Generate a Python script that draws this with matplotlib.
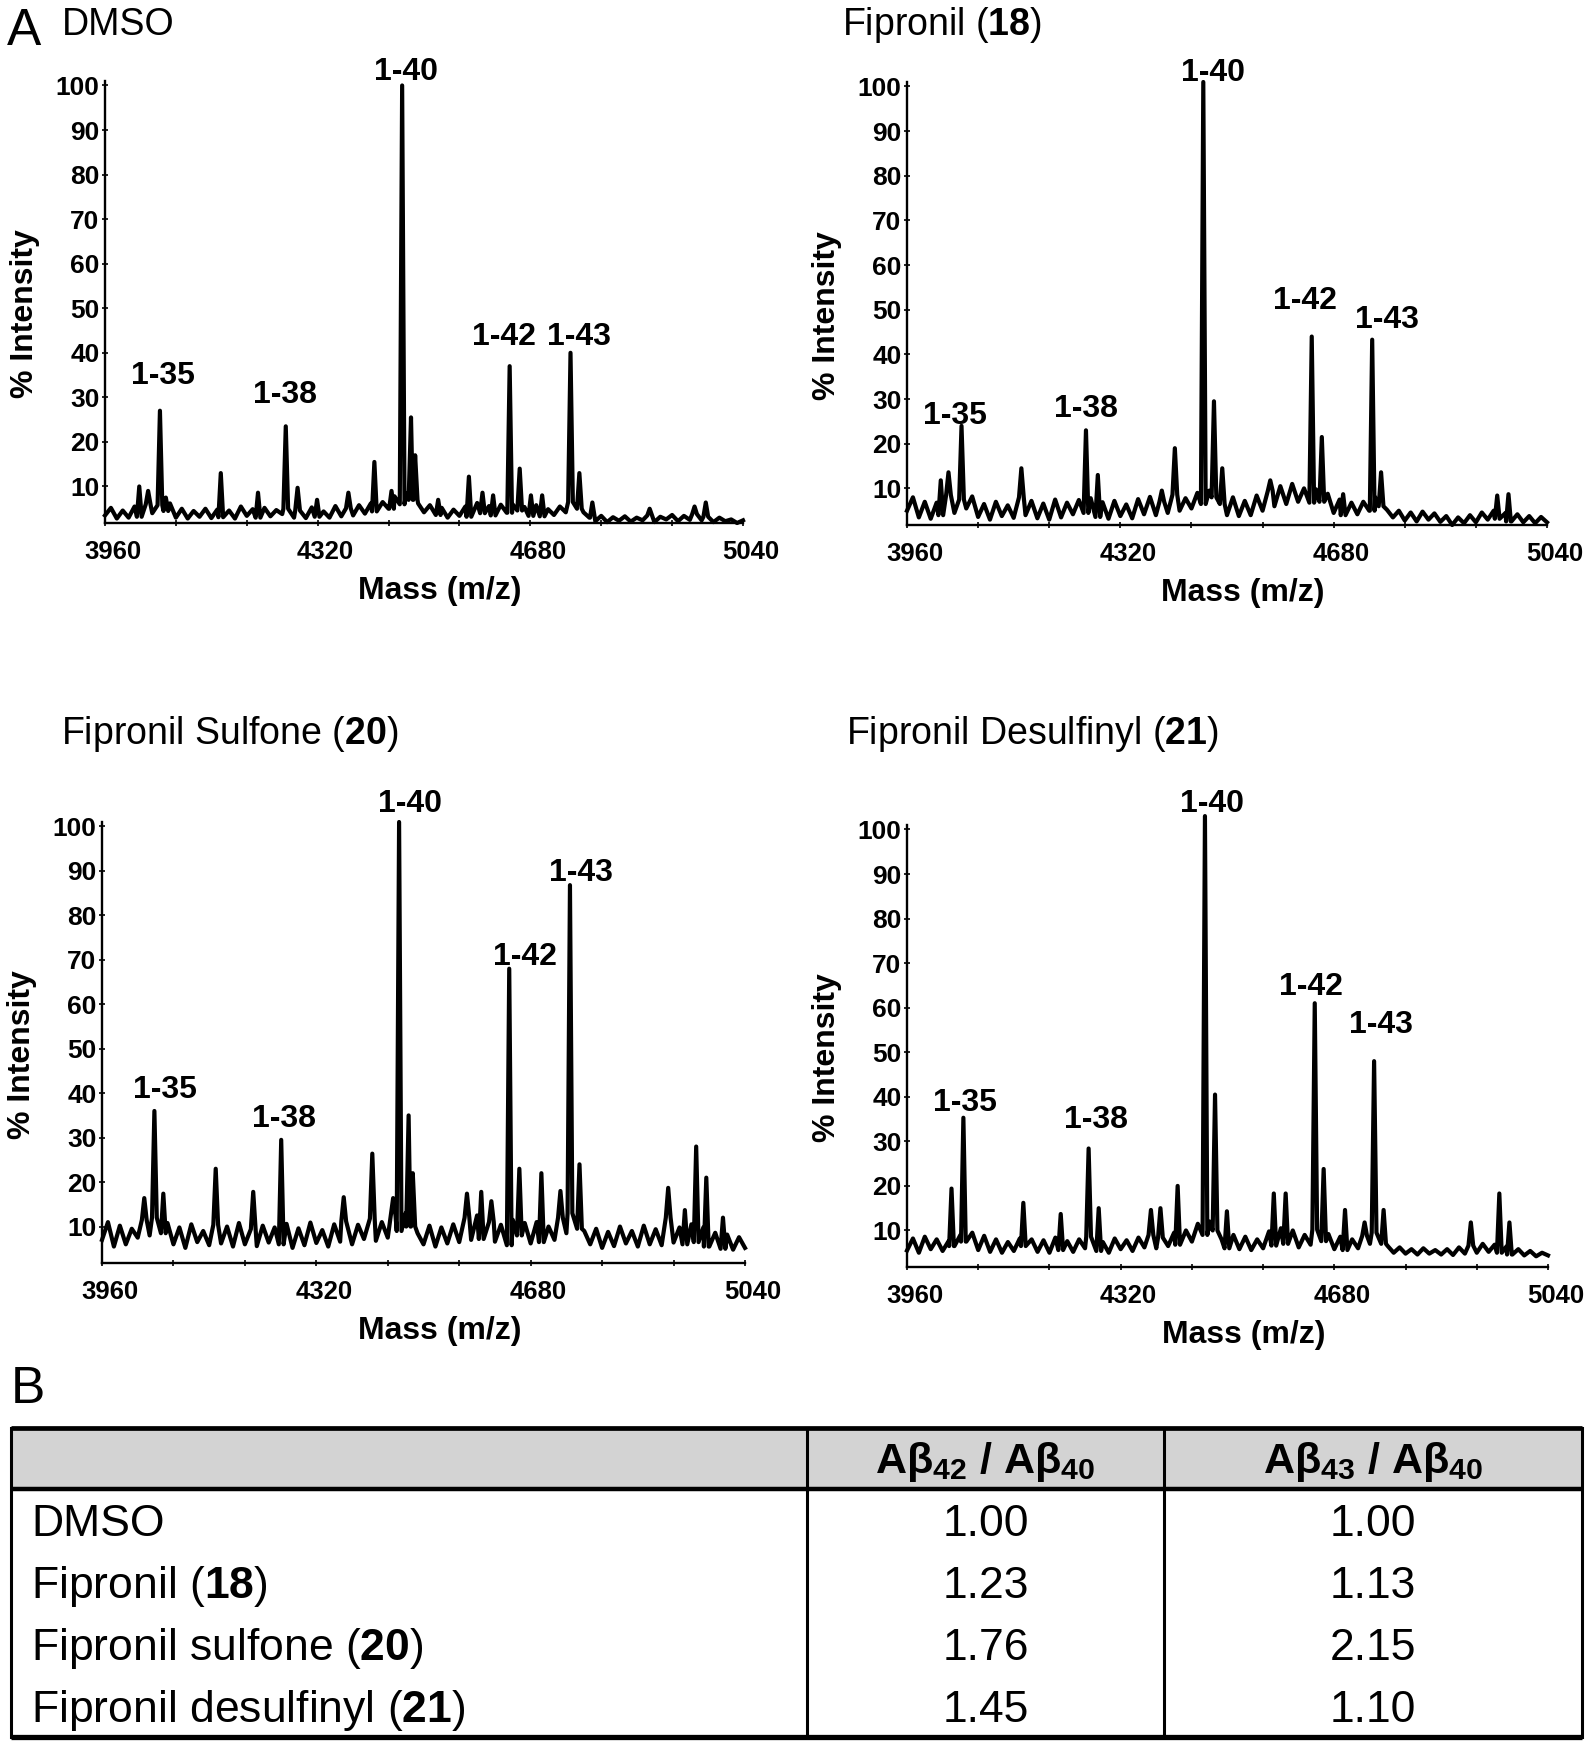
import numpy as np
import matplotlib
matplotlib.use("Agg")
import matplotlib.pyplot as plt
from matplotlib.patches import Rectangle
from matplotlib.transforms import ScaledTranslation

plt.rcParams['font.family'] = ['Liberation Sans', 'DejaVu Sans']
plt.rcParams['mathtext.fontset'] = 'custom'
plt.rcParams['mathtext.rm'] = 'Liberation Sans'
plt.rcParams['mathtext.bf'] = 'Liberation Sans:bold'
plt.rcParams['mathtext.it'] = 'Liberation Sans:italic'

# ---- data ----
mass_start = 3960
mass_step = 10

# baseline noise, one value every 10 Da from 3960 to 5040
base_dmso = [3.5, 5.2, 2.8, 4.6, 3.0, 5.5, 3.2, 6.0, 4.0, 5.8,
             4.5, 6.2, 3.0, 5.0, 2.8, 4.5, 3.2, 5.0, 2.9, 4.8,
             3.1, 4.6, 2.8, 5.5, 3.4, 4.9, 3.0, 5.2, 3.3, 4.7,
             3.8, 5.0, 3.0, 4.6, 2.9, 5.3, 3.2, 4.4, 3.0, 5.6,
             3.3, 5.1, 3.5, 5.8, 3.9, 6.2, 4.4, 6.5, 5.0, 7.8,
             6.0, 8.5, 7.0, 6.2, 4.2, 5.8, 3.6, 5.2, 3.0, 4.8,
             3.4, 5.5, 3.2, 6.3, 4.0, 5.6, 3.5, 5.9, 4.1, 6.0,
             4.6, 5.4, 3.4, 5.8, 3.3, 4.9, 3.6, 5.5, 4.2, 6.5,
             5.0, 4.2, 3.0, 2.2, 3.4, 2.0, 3.1, 2.3, 3.3, 2.1,
             3.0, 2.4, 3.5, 2.0, 3.2, 2.6, 3.6, 2.2, 3.4, 2.5,
             3.8, 2.4, 3.2, 2.0, 3.0, 2.2, 2.6, 1.8, 2.4]
base_fip = [5.0, 8.0, 3.5, 7.0, 3.2, 6.8, 4.0, 8.5, 4.5, 7.5,
            5.5, 8.2, 3.6, 6.5, 3.0, 7.0, 3.8, 6.2, 3.4, 8.0,
            4.0, 7.2, 3.3, 6.6, 3.0, 7.5, 3.5, 6.8, 4.2, 7.4,
            4.5, 7.8, 3.6, 6.9, 3.2, 7.2, 3.8, 6.4, 3.3, 7.6,
            4.2, 8.1, 4.0, 7.0, 4.5, 8.6, 5.0, 7.8, 5.5, 9.0,
            6.5, 9.5, 8.0, 6.5, 4.0, 8.0, 3.8, 7.2, 4.0, 8.4,
            5.0, 9.5, 6.0, 10.5, 6.5, 11.0, 7.0, 10.0, 6.8, 9.8,
            7.0, 8.8, 4.5, 7.5, 4.0, 6.8, 4.2, 7.0, 5.0, 8.0,
            6.0, 5.2, 3.5, 5.0, 2.8, 4.6, 2.6, 4.8, 3.0, 4.4,
            2.5, 3.8, 1.8, 3.5, 2.2, 4.0, 2.4, 4.6, 3.0, 5.0,
            3.2, 4.5, 2.6, 4.2, 2.4, 3.8, 2.2, 3.6, 2.4]
base_sulfone = [7.0, 11.0, 5.5, 10.2, 6.0, 9.5, 7.5, 11.5, 8.0, 12.0,
                8.5, 10.8, 6.0, 9.8, 5.2, 10.5, 6.5, 9.0, 5.8, 10.4,
                6.2, 10.0, 5.5, 10.8, 6.0, 9.4, 5.6, 10.2, 6.4, 9.8,
                6.0, 10.6, 5.2, 9.6, 5.8, 10.9, 6.3, 9.2, 5.5, 10.5,
                6.6, 11.2, 6.0, 10.4, 7.2, 11.8, 6.8, 11.0, 7.5, 12.5,
                9.0, 13.0, 10.0, 8.5, 6.0, 10.2, 5.5, 9.8, 6.2, 10.5,
                6.5, 12.0, 7.0, 12.5, 7.2, 11.0, 6.6, 10.4, 5.8, 11.5,
                8.0, 10.8, 6.2, 11.0, 6.5, 10.0, 7.0, 12.0, 8.5, 13.0,
                9.5, 9.0, 6.0, 9.5, 5.2, 8.8, 5.6, 10.0, 6.2, 9.0,
                5.5, 10.2, 6.0, 9.4, 5.8, 12.0, 6.4, 9.8, 6.0, 10.5,
                6.5, 9.8, 5.5, 8.6, 5.0, 8.2, 4.8, 7.6, 5.2]
base_desulf = [5.5, 8.2, 5.0, 8.6, 5.8, 8.0, 5.4, 7.6, 6.5, 9.0,
               7.5, 9.5, 5.6, 8.8, 5.2, 8.0, 5.0, 7.4, 5.4, 8.2,
               6.5, 8.0, 5.2, 7.8, 5.0, 8.4, 5.6, 7.6, 5.2, 8.0,
               6.0, 8.6, 5.4, 7.4, 5.0, 8.2, 5.8, 7.8, 5.4, 8.4,
               6.2, 9.0, 6.0, 8.4, 6.5, 9.5, 6.8, 10.0, 7.5, 11.5,
               9.0, 12.0, 10.0, 8.0, 6.0, 9.0, 5.8, 8.6, 5.6, 8.0,
               6.0, 9.8, 6.6, 10.5, 7.0, 10.0, 6.2, 9.0, 6.8, 10.2,
               7.6, 9.2, 5.8, 8.6, 5.6, 8.0, 6.0, 8.8, 7.0, 9.5,
               7.0, 6.5, 5.0, 6.2, 4.8, 5.8, 4.6, 6.0, 4.8, 5.6,
               4.6, 5.8, 4.5, 6.2, 4.8, 6.6, 5.0, 7.0, 5.2, 6.8,
               5.0, 6.4, 4.6, 5.8, 4.4, 5.4, 4.2, 5.0, 4.4]

# peaks (m/z, % intensity)
peaks_dmso = [(4018, 10), (4033, 9), (4053, 27), (4063, 7.5), (4156, 13),
              (4219, 8.6), (4266, 23.5), (4286, 9.7), (4319, 7), (4372, 8.6),
              (4416, 15.5), (4445, 9), (4463, 100), (4478, 25.5), (4485, 17),
              (4524, 7), (4576, 12.2), (4599, 8.6), (4617, 8), (4645, 37),
              (4662, 14), (4681, 8), (4700, 8), (4748, 40), (4763, 13),
              (4785, 6.4), (4882, 5), (4958, 5.5), (4977, 6.4)]
peaks_fip = [(4017, 11.8), (4030, 13.6), (4052, 24), (4153, 14.5), (4262, 23),
             (4282, 13), (4390, 9.5), (4412, 19), (4460, 101), (4478, 29.5),
             (4492, 14.5), (4573, 11.8), (4643, 44), (4660, 21.5), (4696, 8.7),
             (4745, 43.3), (4760, 13.6), (4956, 8.4), (4975, 8.7)]
peaks_sulfone = [(4031, 16.4), (4048, 36), (4063, 17.4), (4151, 23), (4214, 17.8),
                 (4261, 29.5), (4366, 16.6), (4414, 26.4), (4449, 16.4), (4459, 101),
                 (4475, 35), (4482, 22), (4573, 17.4), (4597, 17.8), (4614, 15.7),
                 (4644, 68), (4661, 23), (4698, 22), (4730, 18), (4746, 86.8),
                 (4762, 24), (4911, 18.7), (4939, 13.7), (4958, 28), (4975, 21),
                 (5003, 12)]
peaks_desulf = [(4035, 19.4), (4055, 35.3), (4156, 16.2), (4219, 13.7), (4266, 28.4),
                (4283, 15), (4371, 14.6), (4387, 15), (4416, 20), (4462, 103),
                (4479, 40.5), (4499, 14.3), (4578, 18.3), (4598, 18.3), (4647, 61),
                (4662, 23.8), (4698, 14.6), (4731, 11.8), (4747, 48), (4763, 14.6),
                (4910, 11.8), (4958, 18.3), (4975, 11.8)]

peak_names = ['1-35', '1-38', '1-40', '1-42', '1-43']

titles = ['DMSO', r'Fipronil ($\mathbf{18}$)', r'Fipronil Sulfone ($\mathbf{20}$)',
          r'Fipronil Desulfinyl ($\mathbf{21}$)']

# table
row_names = ['DMSO', r'Fipronil ($\mathbf{18}$)', r'Fipronil sulfone ($\mathbf{20}$)',
             r'Fipronil desulfinyl ($\mathbf{21}$)']
col_names = [r'$\mathbf{Aβ_{42}\ /\ Aβ_{40}}$', r'$\mathbf{Aβ_{43}\ /\ Aβ_{40}}$']
ratio_42_40 = [1.00, 1.23, 1.76, 1.45]
ratio_43_40 = [1.00, 1.13, 2.15, 1.10]

# ---- layout (pixels) ----
W, H = 1592, 1743
fig = plt.figure(figsize=(W / 100, H / 100), dpi=100)


def px_axes(x0, y0, x1, y1):
    return fig.add_axes([x0 / W, 1 - y1 / H, (x1 - x0) / W, (y1 - y0) / H])


panels = [
    (base_dmso, peaks_dmso, (105, 81, 743, 523), (62, 35),
     [(4058, 34.8), (4265, 30.5), (4469, 103), (4635, 43.5), (4763, 43.5)]),
    (base_fip, peaks_fip, (907, 82, 1547, 525), (842, 35),
     [(4041, 26.2), (4262, 27.7), (4477, 103), (4631, 51.9), (4770, 47.6)]),
    (base_sulfone, peaks_sulfone, (102, 822, 745, 1263), (61, 744),
     [(4066, 40.7), (4266, 34.2), (4478, 105), (4670, 70.7), (4765, 89.5)]),
    (base_desulf, peaks_desulf, (907, 825, 1548, 1267), (846, 744),
     [(4058, 38.7), (4278, 34.7), (4474, 105.7), (4640, 64.7), (4759, 56.2)]),
]


def trace(baseline, peaks, hw=4):
    gx = mass_start + mass_step * np.arange(len(baseline))
    pts = [(x, y) for x, y in zip(gx, baseline)
           if all(abs(x - m) > hw for m, _ in peaks)]
    for m, h in peaks:
        b = baseline[int(round((m - mass_start) / mass_step))]
        pts += [(m - hw, b), (m, h), (m + hw, b)]
    pts.sort()
    return np.array(pts).T


xoff = ScaledTranslation(8 / 100, 0, fig.dpi_scale_trans)

for (base, peaks, rect, tpos, lpos), title in zip(panels, titles):
    x0, y0, x1, y1 = rect
    ax = px_axes(x0, y0, x1, y1)
    xs, ys = trace(base, peaks)
    ax.plot(xs, ys, color='black', lw=3.0, clip_on=False, solid_joinstyle='round')
    ax.set_xlim(3960, 5040)
    ax.set_ylim(1.8, 101)
    for s in ['top', 'right']:
        ax.spines[s].set_visible(False)
    for s in ['left', 'bottom']:
        ax.spines[s].set_linewidth(1.7)
    ax.set_xticks([3960, 4320, 4680, 5040])
    ax.set_xticks(np.arange(3960, 5041, 120), minor=True)
    ax.set_yticks(range(10, 101, 10))
    ax.tick_params(axis='both', which='both', direction='inout', length=4,
                   width=1.2)
    ax.tick_params(axis='x', pad=10, labelsize=18.5)
    ax.tick_params(axis='y', pad=2, labelsize=19)
    for lab in ax.get_xticklabels() + ax.get_yticklabels():
        lab.set_fontweight('bold')
    for lab in ax.get_xticklabels():
        lab.set_transform(lab.get_transform() + xoff)
    for name, (mx, my) in zip(peak_names, lpos):
        ax.text(mx, my, name, ha='center', va='center', fontsize=23,
                fontweight='bold', clip_on=False)
    fig.text((x0 + x1) / 2 / W + 16 / W, 1 - (y1 + 68) / H, 'Mass (m/z)',
             ha='center', va='center', fontsize=23, fontweight='bold')
    fig.text((x0 - 80) / W, 1 - ((y0 + y1) / 2 + 12) / H, '% Intensity',
             ha='center', va='center', fontsize=23, fontweight='bold',
             rotation=90)
    fig.text(tpos[0] / W, 1 - tpos[1] / H, title, ha='left', va='baseline',
             fontsize=27)

fig.text(7 / W, 1 - 45 / H, 'A', ha='left', va='baseline', fontsize=37)
fig.text(11 / W, 1 - 1403 / H, 'B', ha='left', va='baseline', fontsize=37)

# ---- table B ----
tx0, ty0, tx1, ty1 = 11, 1428, 1582, 1737
axt = px_axes(tx0, ty0, tx1, ty1)
tw, th = tx1 - tx0, ty1 - ty0
axt.set_xlim(0, tw)
axt.set_ylim(th, 0)
axt.axis('off')
head_h = 61
row_h = (th - head_h) / len(row_names)
col_x = [0, 796, 1153, tw]

axt.add_patch(Rectangle((0, 0), tw, head_h, facecolor='#d3d3d3', edgecolor='none'))
axt.plot([0, tw], [0, 0], color='black', lw=3.4, solid_capstyle='butt', clip_on=False)
axt.plot([0, tw], [head_h, head_h], color='black', lw=3.2, solid_capstyle='butt', clip_on=False)
axt.plot([0, tw], [th, th], color='black', lw=3.8, solid_capstyle='butt', clip_on=False)
for cx in col_x:
    axt.plot([cx, cx], [0, th], color='black', lw=2.2, clip_on=False)

for j, cn in enumerate(col_names):
    cx = (col_x[j + 1] + col_x[j + 2]) / 2
    axt.text(cx, 45, cn, ha='center', va='baseline', fontsize=31)

for i, rn in enumerate(row_names):
    yb = head_h + row_h * i + row_h / 2 + 16
    axt.text(20, yb, rn, ha='left', va='baseline', fontsize=32)
    for j, vals in enumerate([ratio_42_40, ratio_43_40]):
        cx = (col_x[j + 1] + col_x[j + 2]) / 2
        axt.text(cx, yb, f'{vals[i]:.2f}', ha='center', va='baseline', fontsize=32)

fig.savefig('out.png', dpi=100)
